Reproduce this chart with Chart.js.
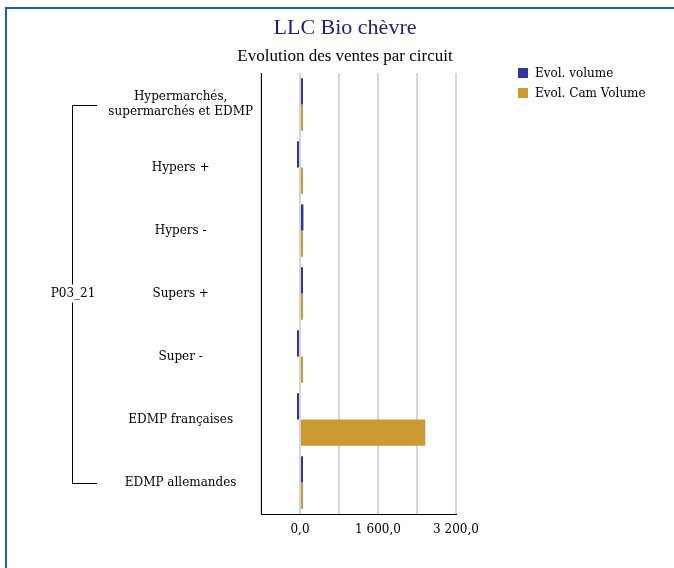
<!DOCTYPE html>
<html>
<head>
<meta charset="utf-8">
<script src="https://cdn.jsdelivr.net/npm/chart.js@4"></script>
<style>
  body { margin: 0; background: #fff; }
  #wrap { position: relative; width: 674px; height: 568px; overflow: hidden; }
  #frame { position: absolute; left: 5px; top: 7px; width: 800px; height: 700px; border: 2px solid #1a62b8; }
  canvas { position: absolute; left: 0; top: 0; }
  .title { position: absolute; left: 0; width: 690px; text-align: center; font-family: "Liberation Serif", serif; }
  #t1 { top: 14px; font-size: 22px; color: #1c1c8a; }
  #t2 { top: 46px; font-size: 17px; color: #000; }
  .leg { position: absolute; left: 518px; font: 12px "DejaVu Serif", serif; color: #000; white-space: nowrap; }
  .leg span { display: inline-block; width: 10px; height: 10px; margin-right: 7px; vertical-align: -1px; }
</style>
</head>
<body>
<div id="wrap">
  <div id="frame"></div>
  <canvas id="chart" width="674" height="568"></canvas>
  <div class="title" id="t1">LLC Bio chèvre</div>
  <div class="title" id="t2">Evolution des ventes par circuit</div>
  <div class="leg" style="top:66px"><span style="background:#333399"></span>Evol. volume</div>
  <div class="leg" style="top:86px"><span style="background:#cc9933"></span>Evol. Cam Volume</div>
</div>
<script>
const groupLabel = 'P03_21';
const categories = [
  ['Hypermarchés,', 'supermarchés et EDMP'],
  'Hypers +',
  'Hypers -',
  'Supers +',
  'Super -',
  'EDMP françaises',
  'EDMP allemandes'
];
const evolVolume = [18, -3, 70, 2, -28, -28, 2];
const evolCamVolume = [12, 2, 50, 2, 3, 2570, 2];
const tickValues = [0, 1600, 3200];

function fmt(v) {
  const s = Math.abs(v).toFixed(1).split('.');
  const int = s[0].replace(/\B(?=(\d{3})+(?!\d))/g, ' ');
  return (v < 0 ? '-' : '') + int + ',' + s[1];
}

const font = { family: '"DejaVu Serif", serif', size: 12 };

const bracket = {
  id: 'bracket',
  afterDraw(chart) {
    const ctx = chart.ctx;
    const y = chart.scales.y;
    const top = Math.round(y.getPixelForValue(0)) + 0.5;
    const bot = Math.round(y.getPixelForValue(categories.length - 1)) + 0.5;
    const mid = y.getPixelForValue(3);
    const x = 72.5;
    ctx.save();
    ctx.strokeStyle = '#000';
    ctx.lineWidth = 1;
    ctx.beginPath();
    ctx.moveTo(97, top); ctx.lineTo(x, top); ctx.lineTo(x, bot); ctx.lineTo(97, bot);
    ctx.stroke();
    ctx.font = '12px "DejaVu Serif", serif';
    ctx.textAlign = 'center';
    ctx.textBaseline = 'middle';
    ctx.fillStyle = '#fff';
    ctx.fillRect(45, mid - 9, 56, 18);
    ctx.fillStyle = '#000';
    ctx.fillText(groupLabel, 73, mid);
    ctx.restore();
  }
};

new Chart(document.getElementById('chart'), {
  type: 'bar',
  data: {
    labels: categories,
    datasets: [
      { label: 'Evol. volume', data: evolVolume, backgroundColor: '#333399' },
      { label: 'Evol. Cam Volume', data: evolCamVolume, backgroundColor: '#cc9933' }
    ]
  },
  options: {
    indexAxis: 'y',
    responsive: false,
    animation: false,
    categoryPercentage: 0.83,
    barPercentage: 1,
    minBarLength: 3,
    inflateAmount: 0,
    layout: { padding: { top: 73, right: 218, bottom: 0, left: 0 } },
    plugins: { legend: { display: false }, title: { display: false }, tooltip: { enabled: false } },
    scales: {
      x: {
        min: -800,
        max: 3200,
        afterFit(s) { s.height = 54; },
        afterBuildTicks(s) { s.ticks = [-800, 0, 800, 1600, 2400, 3200].map(v => ({ value: v })); },
        grid: { color: '#d6d6d6', lineWidth: 2, drawTicks: false },
        border: { display: true, color: '#000', width: 1 },
        ticks: {
          padding: 9,
          color: '#000',
          font: font,
          maxRotation: 0,
          autoSkip: false,
          callback: v => tickValues.includes(v) ? fmt(v) : ''
        }
      },
      y: {
        afterFit(s) { s.width = 261; },
        grid: { display: false, drawTicks: false },
        border: { display: true, color: '#000', width: 1 },
        ticks: { crossAlign: 'center', padding: 8, color: '#000', font: font, autoSkip: false }
      }
    }
  },
  plugins: [bracket]
});
</script>
</body>
</html>
